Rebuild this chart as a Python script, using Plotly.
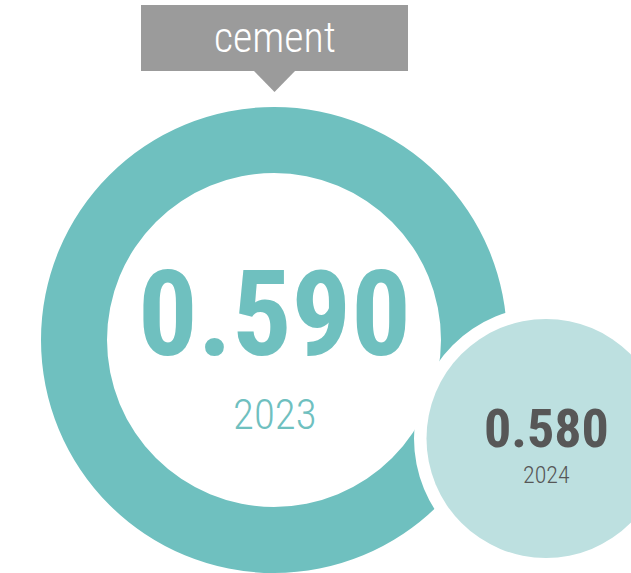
import plotly.graph_objects as go

# Indicator values
material = "cement"
years = [2023, 2024]
values = [0.590, 0.580]

W, H = 631, 573

RING = "#6fc0bf"
BUBBLE = "#bde0e0"
TAG = "#9b9b9b"
DARK = "#575757"
FONT = "Roboto Condensed"

# main ring geometry (pixels)
cx, cy, r_out, r_in = 274, 340, 233, 167
# second-year bubble geometry (pixels)
bx, by, br, gap = 546, 438.5, 119.5, 12.5

fig = go.Figure()

fig.add_trace(go.Pie(
    values=[values[0]],
    labels=[str(years[0])],
    hole=r_in / r_out,
    sort=False,
    textinfo="none",
    hoverinfo="skip",
    marker=dict(colors=[RING], line=dict(width=0)),
    showlegend=False,
    domain=dict(
        x=[(cx - r_out) / W, (cx + r_out) / W],
        y=[(H - cy - r_out) / H, (H - cy + r_out) / H],
    ),
))

shapes = [
    # white halo around the bubble
    dict(type="circle", xref="x", yref="y", layer="above",
         x0=bx - br - gap, x1=bx + br + gap, y0=by - br - gap, y1=by + br + gap,
         fillcolor="white", line=dict(width=0)),
    dict(type="circle", xref="x", yref="y", layer="above",
         x0=bx - br, x1=bx + br, y0=by - br, y1=by + br,
         fillcolor=BUBBLE, line=dict(width=0)),
    # title tag with pointer
    dict(type="rect", xref="x", yref="y", layer="above",
         x0=141, x1=408, y0=5, y1=71, fillcolor=TAG, line=dict(width=0)),
    dict(type="path", xref="x", yref="y", layer="above",
         path="M 253 70 L 296 70 L 274.5 92 Z", fillcolor=TAG, line=dict(width=0)),
]

annotations = [
    dict(x=274.5, y=37, text=material, showarrow=False, xanchor="center", yanchor="middle",
         font=dict(family=FONT, size=42, color="white", weight=300)),
    dict(x=274.5, y=315, text=f"{values[0]:.3f}", showarrow=False,
         xanchor="center", yanchor="middle",
         font=dict(family=FONT, size=118, color=RING, weight=700)),
    dict(x=274.5, y=414, text=str(years[0]), showarrow=False,
         xanchor="center", yanchor="middle",
         font=dict(family=FONT, size=43, color=RING, weight=300)),
    dict(x=546, y=428, text=f"{values[1]:.3f}", showarrow=False,
         xanchor="center", yanchor="middle",
         font=dict(family=FONT, size=54, color=DARK, weight=700)),
    dict(x=546, y=475, text=str(years[1]), showarrow=False,
         xanchor="center", yanchor="middle",
         font=dict(family=FONT, size=24, color=DARK, weight=300)),
]

fig.update_layout(
    width=W, height=H,
    margin=dict(l=0, r=0, t=0, b=0),
    paper_bgcolor="white", plot_bgcolor="white",
    xaxis=dict(range=[0, W], visible=False, fixedrange=True),
    yaxis=dict(range=[H, 0], visible=False, fixedrange=True),
    shapes=shapes,
    annotations=annotations,
    showlegend=False,
)

fig.write_html("out.html", config={"displayModeBar": False})
